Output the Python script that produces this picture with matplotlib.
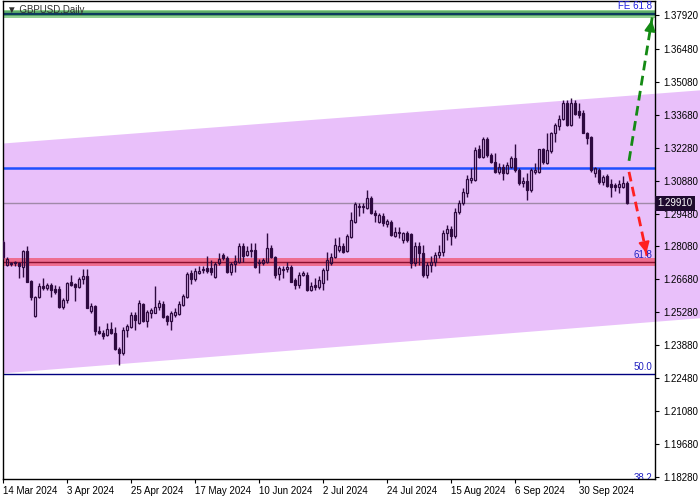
import matplotlib
matplotlib.use("Agg")
import matplotlib.pyplot as plt
import matplotlib.transforms as mtransforms
import numpy as np

plt.rcParams['font.family'] = ['Liberation Sans', 'DejaVu Sans']

# GBPUSD daily candles, bar 0 = 14 Mar 2024
opens = [1.2827, 1.2730, 1.2738, 1.2743, 1.2738, 1.2721, 1.2789, 1.2662, 1.2513, 1.2594,
         1.2641, 1.2632, 1.2645, 1.2628, 1.2628, 1.2551, 1.2581, 1.2658, 1.2649, 1.2636,
         1.2670, 1.2683, 1.2534, 1.2555, 1.2449, 1.2441, 1.2432, 1.2458, 1.2441, 1.2373,
         1.2356, 1.2453, 1.2466, 1.2517, 1.2483, 1.2564, 1.2492, 1.2526, 1.2526, 1.2551,
         1.2564, 1.2513, 1.2492, 1.2517, 1.2522, 1.2560, 1.2594, 1.2696, 1.2670, 1.2696,
         1.2708, 1.2717, 1.2717, 1.2679, 1.2738, 1.2772, 1.2760, 1.2700, 1.2734, 1.2743,
         1.2811, 1.2772, 1.2789, 1.2793, 1.2738, 1.2738, 1.2743, 1.2802, 1.2764, 1.2692,
         1.2708, 1.2713, 1.2721, 1.2666, 1.2645, 1.2687, 1.2687, 1.2623, 1.2645, 1.2636,
         1.2653, 1.2708, 1.2738, 1.2764, 1.2793, 1.2811, 1.2789, 1.2849, 1.2912, 1.2976,
         1.2981, 1.2972, 1.3015, 1.2951, 1.2912, 1.2938, 1.2904, 1.2912, 1.2853, 1.2870,
         1.2836, 1.2866, 1.2862, 1.2738, 1.2811, 1.2781, 1.2687, 1.2730, 1.2743, 1.2772,
         1.2785, 1.2866, 1.2883, 1.2853, 1.2955, 1.2993, 1.3036, 1.3091, 1.3091, 1.3223,
         1.3189, 1.3265, 1.3197, 1.3168, 1.3125, 1.3146, 1.3121, 1.3146, 1.3185, 1.3133,
         1.3078, 1.3087, 1.3048, 1.3125, 1.3125, 1.3223, 1.3163, 1.3214, 1.3291, 1.3321,
         1.3350, 1.3418, 1.3325, 1.3418, 1.3384, 1.3376, 1.3291, 1.3274, 1.3121, 1.3133,
         1.3083, 1.3108, 1.3074, 1.3070, 1.3061, 1.3061, 1.3078]
highs = [1.2836, 1.2764, 1.2743, 1.2747, 1.2743, 1.2793, 1.2811, 1.2666, 1.2598, 1.2653,
         1.2675, 1.2653, 1.2653, 1.2645, 1.2641, 1.2590, 1.2658, 1.2687, 1.2653, 1.2679,
         1.2713, 1.2713, 1.2568, 1.2560, 1.2471, 1.2453, 1.2483, 1.2487, 1.2466, 1.2381,
         1.2466, 1.2479, 1.2530, 1.2530, 1.2581, 1.2568, 1.2538, 1.2547, 1.2641, 1.2581,
         1.2577, 1.2517, 1.2534, 1.2547, 1.2577, 1.2607, 1.2700, 1.2708, 1.2717, 1.2726,
         1.2726, 1.2768, 1.2751, 1.2743, 1.2781, 1.2781, 1.2768, 1.2743, 1.2772, 1.2823,
         1.2823, 1.2811, 1.2823, 1.2823, 1.2755, 1.2760, 1.2866, 1.2815, 1.2768, 1.2726,
         1.2726, 1.2743, 1.2730, 1.2675, 1.2700, 1.2704, 1.2700, 1.2658, 1.2675, 1.2683,
         1.2717, 1.2785, 1.2781, 1.2845, 1.2849, 1.2823, 1.2862, 1.2955, 1.2998, 1.2993,
         1.2993, 1.3048, 1.3023, 1.2963, 1.2951, 1.2951, 1.2925, 1.2921, 1.2891, 1.2891,
         1.2870, 1.2874, 1.2866, 1.2828, 1.2828, 1.2815, 1.2743, 1.2768, 1.2785, 1.2815,
         1.2878, 1.2900, 1.2896, 1.2972, 1.3006, 1.3057, 1.3112, 1.3142, 1.3231, 1.3240,
         1.3274, 1.3274, 1.3206, 1.3206, 1.3163, 1.3159, 1.3168, 1.3193, 1.3244, 1.3142,
         1.3104, 1.3121, 1.3142, 1.3163, 1.3223, 1.3227, 1.3291, 1.3295, 1.3333, 1.3367,
         1.3431, 1.3431, 1.3440, 1.3431, 1.3418, 1.3388, 1.3295, 1.3278, 1.3146, 1.3142,
         1.3112, 1.3117, 1.3095, 1.3078, 1.3091, 1.3108, 1.3087]
lows = [1.2755, 1.2726, 1.2726, 1.2726, 1.2675, 1.2679, 1.2658, 1.2581, 1.2509, 1.2590,
        1.2623, 1.2623, 1.2594, 1.2607, 1.2547, 1.2543, 1.2568, 1.2641, 1.2577, 1.2632,
        1.2649, 1.2547, 1.2526, 1.2432, 1.2437, 1.2415, 1.2428, 1.2437, 1.2368, 1.2305,
        1.2347, 1.2424, 1.2462, 1.2453, 1.2479, 1.2488, 1.2466, 1.2505, 1.2526, 1.2538,
        1.2505, 1.2475, 1.2453, 1.2509, 1.2517, 1.2555, 1.2590, 1.2649, 1.2662, 1.2692,
        1.2696, 1.2696, 1.2687, 1.2675, 1.2730, 1.2751, 1.2696, 1.2687, 1.2700, 1.2738,
        1.2743, 1.2768, 1.2764, 1.2717, 1.2696, 1.2730, 1.2738, 1.2760, 1.2675, 1.2666,
        1.2675, 1.2700, 1.2658, 1.2628, 1.2632, 1.2683, 1.2619, 1.2619, 1.2623, 1.2628,
        1.2623, 1.2666, 1.2730, 1.2760, 1.2785, 1.2781, 1.2785, 1.2845, 1.2908, 1.2938,
        1.2951, 1.2968, 1.2947, 1.2912, 1.2908, 1.2896, 1.2891, 1.2853, 1.2849, 1.2845,
        1.2823, 1.2828, 1.2717, 1.2726, 1.2730, 1.2679, 1.2675, 1.2700, 1.2726, 1.2760,
        1.2768, 1.2836, 1.2815, 1.2845, 1.2947, 1.2985, 1.3019, 1.3078, 1.3087, 1.3185,
        1.3185, 1.3189, 1.3163, 1.3121, 1.3117, 1.3091, 1.3117, 1.3142, 1.3125, 1.3070,
        1.3061, 1.3006, 1.3040, 1.3117, 1.3121, 1.3159, 1.3159, 1.3206, 1.3253, 1.3303,
        1.3346, 1.3321, 1.3321, 1.3367, 1.3355, 1.3291, 1.3244, 1.3125, 1.3104, 1.3074,
        1.3070, 1.3061, 1.3019, 1.3044, 1.3036, 1.3057, 1.2989]
closes = [1.2764, 1.2755, 1.2734, 1.2738, 1.2726, 1.2789, 1.2658, 1.2594, 1.2594, 1.2641,
          1.2632, 1.2645, 1.2623, 1.2615, 1.2551, 1.2581, 1.2653, 1.2645, 1.2636, 1.2670,
          1.2683, 1.2547, 1.2555, 1.2449, 1.2441, 1.2428, 1.2458, 1.2441, 1.2373, 1.2356,
          1.2453, 1.2471, 1.2517, 1.2496, 1.2568, 1.2492, 1.2530, 1.2538, 1.2551, 1.2568,
          1.2509, 1.2492, 1.2526, 1.2530, 1.2564, 1.2598, 1.2692, 1.2670, 1.2704, 1.2704,
          1.2713, 1.2704, 1.2700, 1.2734, 1.2755, 1.2760, 1.2700, 1.2734, 1.2747, 1.2811,
          1.2768, 1.2789, 1.2793, 1.2721, 1.2743, 1.2751, 1.2802, 1.2764, 1.2687, 1.2717,
          1.2713, 1.2721, 1.2658, 1.2645, 1.2687, 1.2696, 1.2623, 1.2641, 1.2636, 1.2666,
          1.2708, 1.2751, 1.2764, 1.2815, 1.2811, 1.2785, 1.2853, 1.2921, 1.2989, 1.2981,
          1.2976, 1.3015, 1.2951, 1.2942, 1.2942, 1.2908, 1.2917, 1.2857, 1.2870, 1.2866,
          1.2866, 1.2836, 1.2738, 1.2811, 1.2781, 1.2687, 1.2730, 1.2743, 1.2772, 1.2785,
          1.2866, 1.2883, 1.2853, 1.2955, 1.2993, 1.3040, 1.3095, 1.3100, 1.3218, 1.3189,
          1.3265, 1.3197, 1.3168, 1.3125, 1.3146, 1.3121, 1.3155, 1.3185, 1.3133, 1.3078,
          1.3087, 1.3048, 1.3133, 1.3133, 1.3223, 1.3168, 1.3218, 1.3291, 1.3325, 1.3350,
          1.3418, 1.3325, 1.3418, 1.3371, 1.3367, 1.3291, 1.3270, 1.3133, 1.3142, 1.3083,
          1.3104, 1.3066, 1.3061, 1.3061, 1.3074, 1.3078, 1.2991]

date_labels = ['14 Mar 2024', '3 Apr 2024', '25 Apr 2024', '17 May 2024', '10 Jun 2024',
               '2 Jul 2024', '24 Jul 2024', '15 Aug 2024', '6 Sep 2024', '30 Sep 2024']
date_bars = [0, 16, 32, 48, 64, 80, 96, 112, 128, 144]

price_ticks = [1.37920, 1.36480, 1.35080, 1.33680, 1.32280, 1.30880, 1.29480, 1.28080,
               1.26680, 1.25280, 1.23880, 1.22480, 1.21080, 1.19680, 1.18280]

# drawn objects
channel_bars = [0, 174.2]
channel_upper = [1.3248, 1.3474]
channel_lower = [1.2271, 1.2505]
fib_levels = [38.2, 50.0, 61.8]
fib_prices = [1.1791, 1.2266, 1.2741]
fe_price = 1.3798
blue_level = 1.3142
bid = 1.29910
up_arrow = [(156.4, 1.3172), (162.2, 1.3782)]
down_arrow = [(156.4, 1.3125), (160.9, 1.2768)]

candle_c = '#2e0a40'
purple = '#e9c0fa'

fig = plt.figure(figsize=(7, 5), dpi=100)
ax = fig.add_axes([3 / 700, 21 / 500, 652 / 700, 478 / 500])
ax.set_xlim(-0.1, 162.9)
ax.set_ylim(1.18193, 1.38515)

# channel fill, runs over the price scale as in MT4
ax.fill_between(channel_bars, channel_lower, channel_upper, color=purple,
                lw=0, zorder=0, clip_on=False)

# fibo expansion band on top
ax.axhspan(fe_price - 0.0019, fe_price + 0.0017, color='#92d092', lw=0, zorder=1)
ax.axhspan(fe_price - 0.0010, fe_price + 0.0009, color='#5fae6a', lw=0, zorder=1.1)
ax.axhline(fe_price, color='#0d3b5e', lw=1.6, zorder=1.2)
ax.text(162.2, fe_price + 0.0010, 'FE 61.8', color='#2020e0', fontsize=7,
        ha='right', va='bottom', zorder=5)

# red zone around the 61.8 retracement
ax.axhspan(fib_prices[2] - 0.0017, fib_prices[2] + 0.0017, color='#f0607e', alpha=0.85,
           lw=0, zorder=1)
ax.axhline(fib_prices[2], color='#8a1030', lw=1.0, zorder=1.2)

# fibo retracement levels
for lev, pr in zip(fib_levels, fib_prices):
    if lev != 61.8:
        ax.axhline(pr, color='#000080', lw=1.0, zorder=1.2)
    ax.text(162.2, pr + 0.0010, f'{lev:.1f}', color='#2020c0', fontsize=7,
            ha='right', va='bottom', zorder=5, clip_on=True)

ax.axhline(blue_level, color='#1f4fff', lw=1.8, zorder=1.3)
ax.axhline(bid, color='#a08aa8', lw=1.0, zorder=1.1)

# candles
o = np.array(opens)
h = np.array(highs)
l = np.array(lows)
c = np.array(closes)
x = np.arange(len(c))
up = c >= o
top = np.maximum(o, c)
bot = np.minimum(o, c)
ax.vlines(x, top, h, color=candle_c, lw=1.0, zorder=3)
ax.vlines(x, l, bot, color=candle_c, lw=1.0, zorder=3)
ax.bar(x, np.maximum(top - bot, 0.00008), bottom=bot, width=0.5,
       color=[('none' if u else candle_c) for u in up],
       edgecolor=candle_c, linewidth=0.9, zorder=3.1)

# projection arrows
for (p0, p1), col in [(up_arrow, '#148a14'), (down_arrow, '#ff2020')]:
    ax.plot([p0[0], p1[0]], [p0[1], p1[1]], color=col, lw=2, ls=(0, (3.5, 2)),
            zorder=4, clip_on=False)
    dx = p1[0] - p0[0]
    dy = p1[1] - p0[1]
    ax.annotate('', xy=p1, xytext=(p1[0] - dx * 0.12, p1[1] - dy * 0.12),
                arrowprops=dict(arrowstyle='-|>', color=col, lw=1.5,
                                mutation_scale=16), zorder=4, annotation_clip=False)

ax.text(0.006, 0.981, '\u25bc GBPUSD,Daily', transform=ax.transAxes, fontsize=7,
        color='#303030', ha='left', va='center', zorder=6)

# axes styling
for s in ax.spines.values():
    s.set_color('black')
    s.set_linewidth(1)
ax.yaxis.tick_right()
ax.set_yticks(price_ticks)
ax.set_yticklabels([f'{p:.5f}' for p in price_ticks])
ax.tick_params(axis='y', direction='out', length=3, width=0.8, pad=3, labelsize=7)
ax.set_xticks(date_bars)
ax.set_xticklabels(date_labels, ha='left')
ax.tick_params(axis='x', direction='out', length=3, width=0.8, pad=2, labelsize=7)
ax.set_facecolor('white')

# current bid box on the price scale
trans = mtransforms.blended_transform_factory(ax.transAxes, ax.transData)
ax.text(1.003, bid, f'{bid:.5f}', transform=trans, fontsize=7, color='white',
        ha='left', va='center', zorder=7,
        bbox=dict(boxstyle='square,pad=0.25', fc='#1e0a2e', ec='none'))

fig.savefig('out.png', dpi=100)
